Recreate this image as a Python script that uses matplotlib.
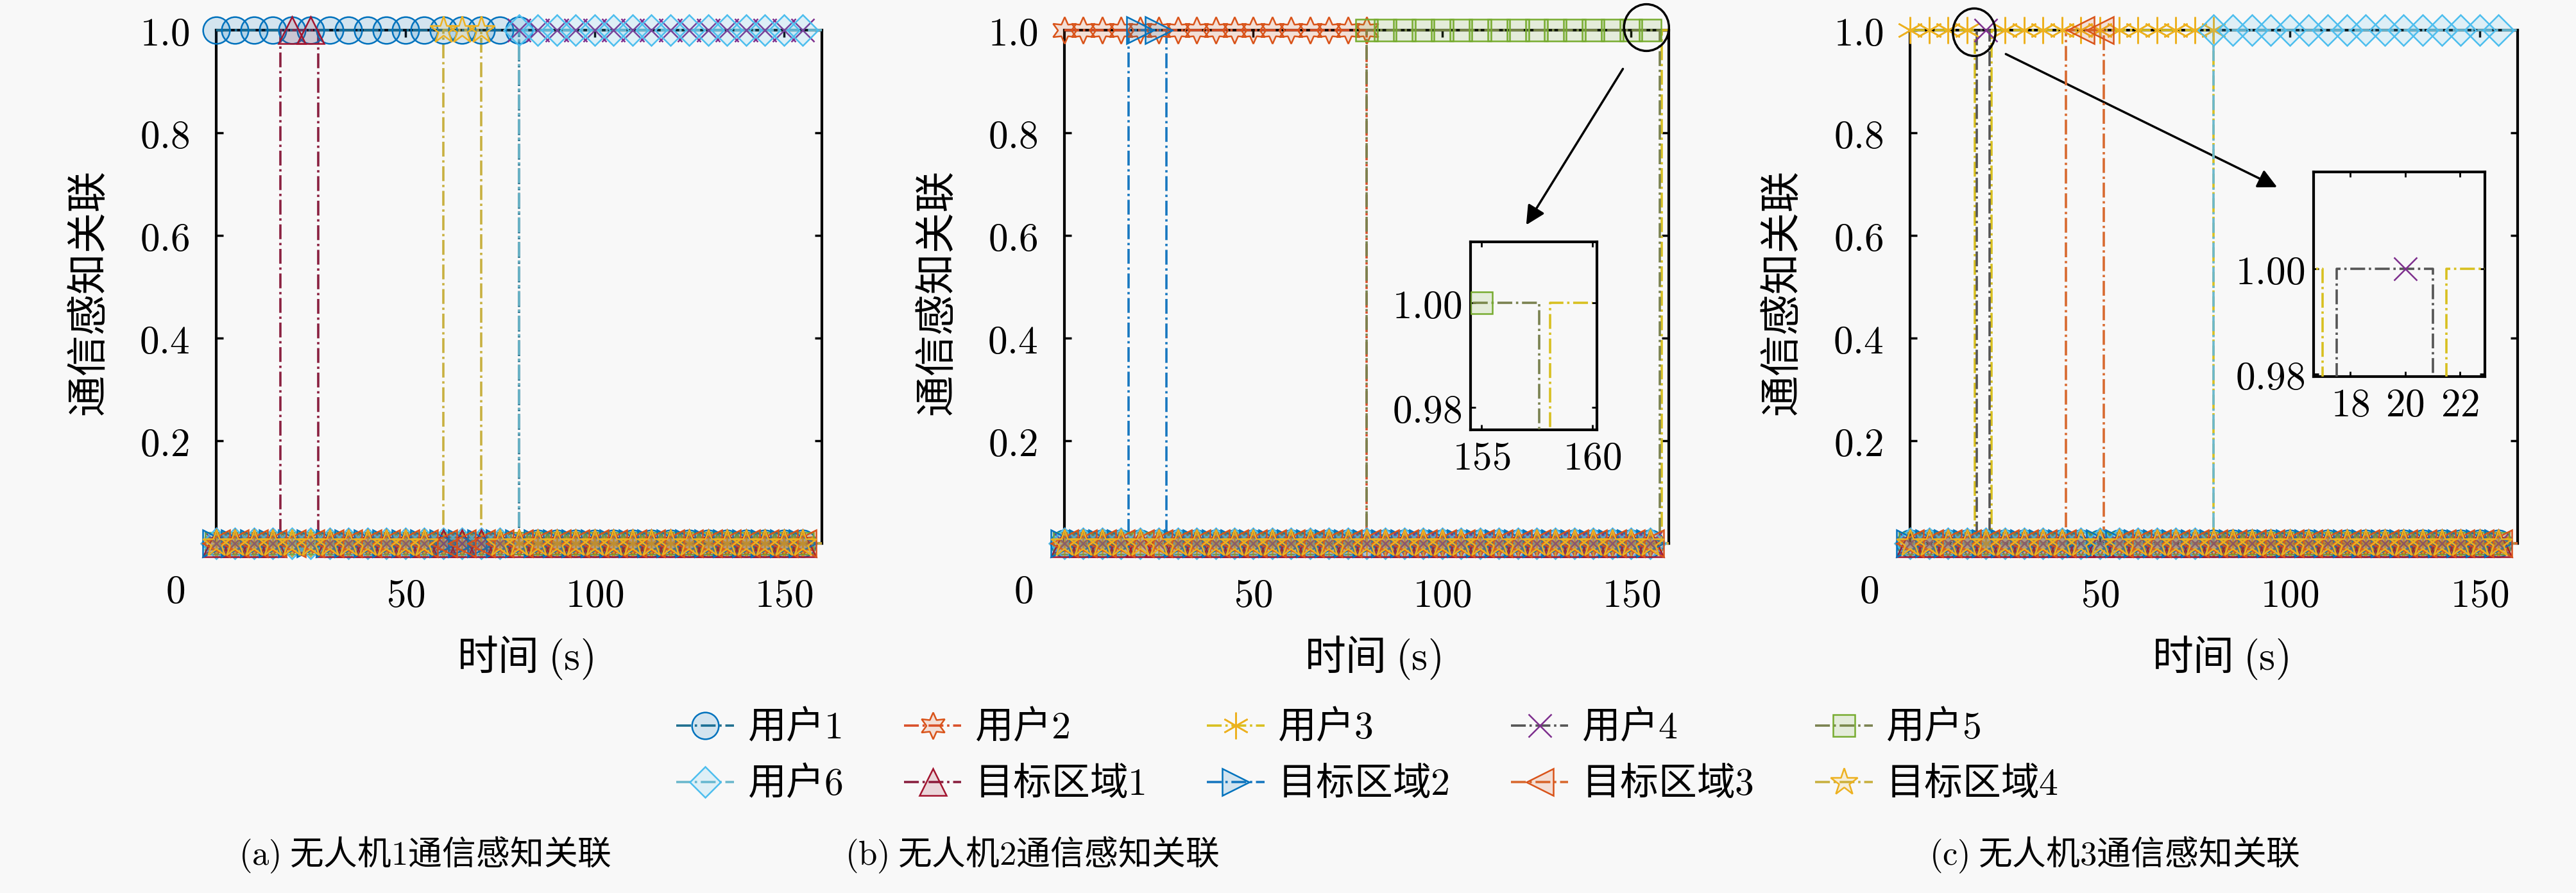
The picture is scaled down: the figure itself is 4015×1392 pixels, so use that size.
import numpy as np
import matplotlib
matplotlib.use("Agg")
import matplotlib.pyplot as plt
from matplotlib.colors import to_rgba
from matplotlib.patches import Ellipse
from matplotlib.ticker import FuncFormatter

plt.rcParams['font.family'] = ['Noto Sans CJK SC', 'DejaVu Sans']
plt.rcParams['mathtext.fontset'] = 'cm'

# ------------------------------------------------------------
# data: time intervals (s) where the association value is 1
# ------------------------------------------------------------
SERIES = ['用户$1$', '用户$2$', '用户$3$', '用户$4$', '用户$5$', '用户$6$',
          '目标区域$1$', '目标区域$2$', '目标区域$3$', '目标区域$4$']

T_START, T_END = 0, 160
MARK_STEP = 5

UAV1_ON = [[(0, 80)], [], [], [(80, 160)], [], [(80, 160)],
           [(17, 27)], [], [], [(60, 70)]]
UAV2_ON = [[], [(0, 80)], [(158.1, 160)], [], [(80, 157.6)], [],
           [], [(17, 27)], [], []]
UAV3_ON = [[], [], [(0, 17), (21.5, 80)], [(17.5, 21)], [], [(80, 160)],
           [], [], [(41, 51)], []]

PANEL_TITLES = ['$(\\mathrm{a})$ 无人机$1$通信感知关联',
                '$(\\mathrm{b})$ 无人机$2$通信感知关联',
                '$(\\mathrm{c})$ 无人机$3$通信感知关联']

# ------------------------------------------------------------
# style
# ------------------------------------------------------------
MARKER_COLORS = ['#0072BD', '#D95319', '#EDB120', '#7E2F8E', '#77AC30',
                 '#4DBEEE', '#A2142F', '#0072BD', '#D95319', '#EDB120']
LINE_COLORS = ['#1f6f8f', '#d9502a', '#d8c020', '#555555', '#7a8250',
               '#6cb8cc', '#8a2040', '#1878c0', '#d86a30', '#c8b040']
MARKERS = ['o', (6, 1, 0), (6, 2, 0), 'x', 's', 'D', '^', '>', '<', '*']
MSIZES = [30, 30, 30, 26, 24, 24, 30, 30, 30, 32]

BG = '#f8f8f8'
TICK_FS = 44
LABEL_FS = 46

W, H = 4016, 1392
DPI = 100
fig = plt.figure(figsize=(W / DPI, H / DPI), dpi=DPI, facecolor=BG)

AX_POS = [(337, 944), (1659, 942), (2977, 947)]
AX_TOP, AX_BOT = 47, 847


def step_xy(intervals):
    xs, ys = [T_START], [0]
    for s, e in intervals:
        if s > T_START:
            xs += [s, s]
            ys += [0, 1]
        else:
            ys[-1] = 1
        xs += [e, e]
        ys += [1, 0]
    if xs[-1] < T_END:
        xs.append(T_END)
        ys.append(ys[-1])
    else:
        xs, ys = xs[:-1], ys[:-1]
    return np.array(xs, float), np.array(ys, float)


def marker_xy(intervals):
    mt = np.arange(T_START, T_END, MARK_STEP, dtype=float)
    mv = np.zeros_like(mt)
    for s, e in intervals:
        mv[(mt >= s) & (mt <= e)] = 1
    return mt, mv


def draw_series(ax, on_list, clip):
    for i, iv in enumerate(on_list):
        xs, ys = step_xy(iv)
        ax.plot(xs, ys, linestyle='-.', color=LINE_COLORS[i], lw=2.6,
                clip_on=clip, zorder=3 + i * 0.1)
        mt, mv = marker_xy(iv)
        ax.plot(mt, mv, linestyle='none', marker=MARKERS[i],
                ms=MSIZES[i], mec=MARKER_COLORS[i],
                mfc=to_rgba(MARKER_COLORS[i], 0.15), mew=1.8,
                clip_on=clip, zorder=4 + i * 0.1)


axes = []
all_on = [UAV1_ON, UAV2_ON, UAV3_ON]
for k, (left, width) in enumerate(AX_POS):
    ax = fig.add_axes([left / W, 1 - AX_BOT / H, width / W,
                       (AX_BOT - AX_TOP) / H])
    ax.set_facecolor(BG)
    draw_series(ax, all_on[k], clip=False)
    ax.set_xlim(T_START, T_END)
    ax.set_ylim(0, 1)
    ax.set_xticks([50, 100, 150])
    ax.set_yticks([0.2, 0.4, 0.6, 0.8, 1.0])
    ax.xaxis.set_major_formatter(FuncFormatter(lambda v, p: f'${v:.0f}$'))
    ax.yaxis.set_major_formatter(FuncFormatter(lambda v, p: f'${v:.1f}$'))
    ax.tick_params(direction='in', length=8, width=2.5, labelsize=TICK_FS,
                   right=True, top=True)
    ax.tick_params(axis='x', pad=36)
    ax.tick_params(axis='y', pad=30)
    for sp in ax.spines.values():
        sp.set_linewidth(3)
    ax.text(-0.068, -0.095, '$0$', transform=ax.transAxes, ha='center',
            va='center', fontsize=TICK_FS)
    ax.text(0.51, -0.2225, '时间 $(\\mathrm{s})$', transform=ax.transAxes,
            ha='center', va='center', fontsize=LABEL_FS)
    ax.text(-0.21, 0.49, '通信感知关联', transform=ax.transAxes,
            ha='center', va='center', rotation=90, fontsize=LABEL_FS)
    axes.append(ax)

# ------------------------------------------------------------
# zoom insets
# ------------------------------------------------------------
INSETS = [
    # panel, (left, top, right, bottom) px, xlim, ylim, xticks
    (1, (2292, 377, 2489, 670), (154.5, 160.2), (0.9757, 1.0117), [155, 160]),
    (2, (3606, 268, 3873, 587), (16.67, 22.9), (0.9795, 1.0184), [18, 20, 22]),
]
for k, (l, t, r, b), xl, yl, xt in INSETS:
    ia = fig.add_axes([l / W, 1 - b / H, (r - l) / W, (b - t) / H])
    ia.set_facecolor(BG)
    draw_series(ia, all_on[k], clip=True)
    ia.set_xlim(*xl)
    ia.set_ylim(*yl)
    ia.set_xticks(xt)
    ia.set_yticks([0.98, 1.00])
    ia.xaxis.set_major_formatter(FuncFormatter(lambda v, p: f'${v:.0f}$'))
    ia.yaxis.set_major_formatter(FuncFormatter(lambda v, p: f'${v:.2f}$'))
    ia.tick_params(direction='in', length=6, width=2, labelsize=TICK_FS,
                   right=True, top=True, pad=10)
    for sp in ia.spines.values():
        sp.set_linewidth(3)

# ellipses + arrows
axes[1].add_patch(Ellipse((154.1, 1.005), 11.9, 0.091, fill=False, lw=2.5,
                          ec='black', clip_on=False, zorder=10))
axes[1].annotate('', xy=(122.0, 0.6175), xytext=(148.1, 0.9275),
                 arrowprops=dict(arrowstyle='-|>', lw=2.5, color='black',
                                 mutation_scale=45))
axes[2].add_patch(Ellipse((16.9, 0.996), 11.2, 0.0925, fill=False, lw=2.5,
                          ec='black', clip_on=False, zorder=10))
axes[2].annotate('', xy=(97.1, 0.6925), xytext=(24.8, 0.955),
                 arrowprops=dict(arrowstyle='-|>', lw=2.5, color='black',
                                 mutation_scale=45))

# ------------------------------------------------------------
# legend (row-major order as in the reference)
# ------------------------------------------------------------
leg_handles = []
for i in range(len(SERIES)):
    h, = axes[0].plot([], [], linestyle='-.', color=LINE_COLORS[i], lw=2.6,
                      marker=MARKERS[i], ms=MSIZES[i], mec=MARKER_COLORS[i],
                      mfc=to_rgba(MARKER_COLORS[i], 0.15), mew=1.8)
    leg_handles.append(h)
order = [0, 5, 1, 6, 2, 7, 3, 8, 4, 9]
fig.legend([leg_handles[i] for i in order], [SERIES[i] for i in order],
           loc='center', bbox_to_anchor=(0.5307, 0.153), ncol=5,
           frameon=False, fontsize=43, handlelength=1.5, handletextpad=0.35,
           columnspacing=1.6, labelspacing=0.45)

# sub captions
CAP_X = [662, 1609, 3296]
for x, title in zip(CAP_X, PANEL_TITLES):
    fig.text(x / W, 1 - 1333 / H, title, ha='center', va='center',
             fontsize=38)

fig.savefig('out.png', dpi=DPI, facecolor=BG)
